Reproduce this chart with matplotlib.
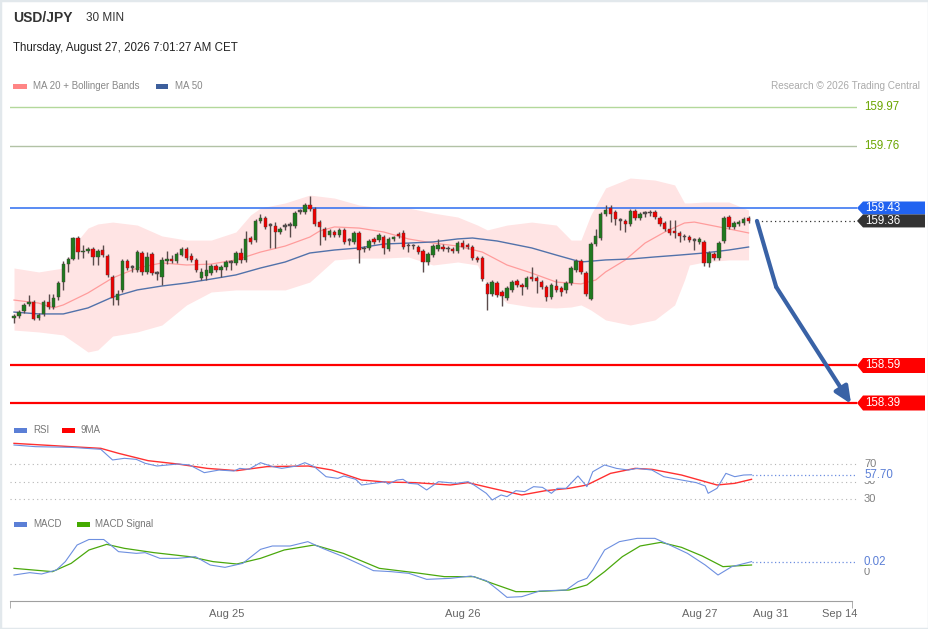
import matplotlib
matplotlib.use('Agg')
import matplotlib.pyplot as plt
from matplotlib.patches import Polygon, Rectangle
import numpy as np

plt.rcParams['font.family'] = ['Liberation Sans', 'DejaVu Sans']

# ---- price data (30 min candles) ----
opens = [
    158.843, 158.854, 158.881, 158.918, 158.929, 158.843, 158.865, 158.929, 158.902, 158.955,
    159.035, 159.131, 159.158, 159.270, 159.195, 159.201, 159.211, 159.169, 159.206, 159.174,
    159.062, 158.939, 158.993, 159.147, 159.110, 159.099, 159.190, 159.089, 159.185, 159.078,
    159.062, 159.147, 159.158, 159.147, 159.179, 159.211, 159.174, 159.153, 159.057, 159.067,
    159.083, 159.121, 159.099, 159.115, 159.137, 159.137, 159.190, 159.153, 159.270, 159.259,
    159.361, 159.377, 159.334, 159.334, 159.302, 159.329, 159.334, 159.334, 159.409, 159.409,
    159.446, 159.425, 159.355, 159.318, 159.286, 159.302, 159.286, 159.313, 159.254, 159.249,
    159.297, 159.211, 159.217, 159.265, 159.259, 159.275, 159.211, 159.265, 159.291, 159.297,
    159.227, 159.227, 159.222, 159.201, 159.142, 159.179, 159.211, 159.222, 159.211, 159.211,
    159.201, 159.243, 159.233, 159.222, 159.163, 159.163, 159.025, 158.971, 159.030, 158.982,
    158.950, 158.993, 159.041, 159.019, 159.009, 159.062, 159.057, 159.035, 159.009, 158.955,
    159.014, 159.003, 158.993, 159.030, 159.099, 159.147, 159.083, 158.945, 159.238, 159.270,
    159.398, 159.430, 159.409, 159.361, 159.361, 159.345, 159.414, 159.377, 159.398, 159.403,
    159.409, 159.377, 159.350, 159.318, 159.307, 159.297, 159.275, 159.275, 159.254, 159.249,
    159.249, 159.137, 159.185, 159.163, 159.254, 159.382, 159.329, 159.345, 159.350, 159.377,
]
closes = [
    158.854, 158.875, 158.913, 158.929, 158.838, 158.859, 158.929, 158.902, 158.950, 159.030,
    159.131, 159.158, 159.270, 159.195, 159.201, 159.211, 159.169, 159.201, 159.179, 159.073,
    158.950, 158.971, 159.147, 159.110, 159.110, 159.195, 159.089, 159.169, 159.083, 159.078,
    159.153, 159.158, 159.147, 159.185, 159.211, 159.163, 159.153, 159.099, 159.089, 159.099,
    159.121, 159.099, 159.115, 159.142, 159.137, 159.190, 159.153, 159.265, 159.249, 159.361,
    159.377, 159.329, 159.334, 159.302, 159.318, 159.329, 159.334, 159.403, 159.409, 159.446,
    159.425, 159.345, 159.329, 159.275, 159.307, 159.286, 159.313, 159.249, 159.254, 159.297,
    159.206, 159.211, 159.254, 159.249, 159.286, 159.217, 159.265, 159.270, 159.281, 159.222,
    159.227, 159.227, 159.195, 159.142, 159.185, 159.227, 159.233, 159.211, 159.211, 159.201,
    159.243, 159.222, 159.222, 159.163, 159.153, 159.051, 158.971, 159.035, 158.966, 158.961,
    159.003, 159.035, 159.019, 159.009, 159.057, 159.051, 159.041, 159.009, 158.955, 159.019,
    158.993, 158.982, 159.030, 159.110, 159.147, 159.089, 158.971, 159.238, 159.281, 159.398,
    159.419, 159.398, 159.371, 159.361, 159.345, 159.414, 159.377, 159.398, 159.398, 159.403,
    159.382, 159.345, 159.318, 159.297, 159.297, 159.281, 159.275, 159.259, 159.254, 159.265,
    159.137, 159.190, 159.163, 159.243, 159.377, 159.329, 159.350, 159.355, 159.371, 159.361,
]
highs = [
    158.865, 158.886, 158.923, 158.966, 158.939, 158.870, 158.939, 158.971, 158.971, 159.041,
    159.147, 159.169, 159.275, 159.281, 159.233, 159.222, 159.222, 159.211, 159.233, 159.185,
    159.073, 158.993, 159.158, 159.158, 159.126, 159.206, 159.201, 159.195, 159.195, 159.094,
    159.169, 159.201, 159.179, 159.195, 159.222, 159.222, 159.190, 159.163, 159.110, 159.153,
    159.131, 159.131, 159.126, 159.153, 159.153, 159.201, 159.217, 159.307, 159.281, 159.371,
    159.398, 159.387, 159.350, 159.355, 159.329, 159.350, 159.355, 159.414, 159.425, 159.457,
    159.494, 159.435, 159.366, 159.329, 159.318, 159.313, 159.323, 159.323, 159.270, 159.307,
    159.307, 159.227, 159.265, 159.275, 159.297, 159.286, 159.275, 159.281, 159.302, 159.313,
    159.243, 159.238, 159.233, 159.211, 159.195, 159.238, 159.265, 159.238, 159.227, 159.222,
    159.254, 159.259, 159.243, 159.233, 159.174, 159.174, 159.035, 159.046, 159.041, 158.993,
    159.014, 159.046, 159.051, 159.030, 159.067, 159.115, 159.067, 159.046, 159.019, 159.030,
    159.051, 159.014, 159.041, 159.121, 159.158, 159.158, 159.094, 159.249, 159.318, 159.409,
    159.446, 159.446, 159.419, 159.377, 159.371, 159.425, 159.425, 159.409, 159.414, 159.419,
    159.419, 159.387, 159.361, 159.366, 159.366, 159.307, 159.291, 159.286, 159.270, 159.275,
    159.259, 159.201, 159.195, 159.254, 159.387, 159.393, 159.361, 159.366, 159.382, 159.387,
]
lows = [
    158.817, 158.843, 158.870, 158.907, 158.833, 158.833, 158.854, 158.891, 158.891, 158.939,
    158.993, 159.089, 159.153, 159.158, 159.163, 159.190, 159.126, 159.126, 159.169, 159.062,
    158.913, 158.913, 158.982, 159.099, 159.089, 159.089, 159.073, 159.078, 159.073, 159.046,
    159.019, 159.131, 159.137, 159.137, 159.174, 159.153, 159.142, 159.089, 159.046, 159.046,
    159.073, 159.089, 159.062, 159.099, 159.099, 159.126, 159.137, 159.142, 159.238, 159.249,
    159.350, 159.318, 159.217, 159.217, 159.291, 159.313, 159.275, 159.323, 159.398, 159.398,
    159.414, 159.334, 159.233, 159.259, 159.275, 159.275, 159.275, 159.238, 159.233, 159.238,
    159.137, 159.195, 159.206, 159.238, 159.249, 159.185, 159.201, 159.254, 159.270, 159.211,
    159.195, 159.211, 159.185, 159.089, 159.126, 159.169, 159.201, 159.201, 159.195, 159.190,
    159.190, 159.211, 159.211, 159.153, 159.142, 159.041, 158.886, 158.961, 158.955, 158.907,
    158.939, 158.982, 159.009, 158.966, 158.998, 159.041, 158.977, 158.998, 158.934, 158.945,
    158.982, 158.961, 158.977, 159.019, 159.089, 159.078, 158.961, 158.939, 159.227, 159.259,
    159.387, 159.355, 159.339, 159.313, 159.302, 159.334, 159.366, 159.366, 159.382, 159.387,
    159.371, 159.334, 159.307, 159.286, 159.270, 159.249, 159.259, 159.249, 159.206, 159.238,
    159.121, 159.115, 159.153, 159.153, 159.243, 159.318, 159.318, 159.334, 159.339, 159.350,
]

# Bollinger bands around MA 20 (read at bar positions)
band_idx = [0, 5, 10, 13, 15, 17, 20, 25, 30, 35, 40, 45, 48, 50, 55, 60, 65, 70, 75, 80,
            85, 90, 94, 96, 100, 105, 110, 113, 115, 117, 120, 125, 130, 134, 136, 137, 140, 145, 149]
band_upper = [159.110, 159.089, 159.110, 159.259, 159.323, 159.345, 159.355, 159.339, 159.281, 159.259,
              159.259, 159.302, 159.393, 159.430, 159.457, 159.499, 159.483, 159.446, 159.430, 159.430,
              159.403, 159.382, 159.339, 159.313, 159.339, 159.355, 159.339, 159.259, 159.259, 159.393,
              159.537, 159.590, 159.579, 159.553, 159.457, 159.457, 159.462, 159.462, 159.419]
band_lower = [158.779, 158.769, 158.753, 158.699, 158.662, 158.673, 158.747, 158.769, 158.806, 158.913,
              158.982, 158.993, 158.993, 158.993, 158.993, 159.035, 159.153, 159.163, 159.163, 159.169,
              159.126, 159.142, 159.126, 159.019, 158.923, 158.902, 158.897, 158.902, 158.913, 158.886,
              158.833, 158.806, 158.833, 158.913, 159.046, 159.126, 159.142, 159.153, 159.153]

ma20_idx = [0, 5, 8, 10, 15, 20, 25, 30, 35, 40, 45, 50, 55, 60, 62, 65, 70, 75, 80, 85, 90,
            95, 100, 105, 110, 115, 118, 120, 124, 128, 132, 136, 138, 143, 149]
ma20 = [158.939, 158.923, 158.897, 158.913, 158.977, 159.057, 159.110, 159.137, 159.126, 159.131,
        159.153, 159.195, 159.227, 159.275, 159.307, 159.329, 159.323, 159.302, 159.265, 159.243,
        159.227, 159.195, 159.126, 159.083, 159.035, 159.025, 159.046, 159.089, 159.153, 159.243,
        159.302, 159.350, 159.355, 159.329, 159.297]

ma50_idx = [0, 5, 10, 15, 20, 25, 30, 35, 40, 45, 50, 55, 60, 65, 70, 75, 80, 85, 90, 93,
            98, 105, 110, 115, 120, 125, 130, 135, 140, 145, 149]
ma50 = [158.875, 158.865, 158.865, 158.897, 158.955, 158.993, 159.014, 159.030, 159.051, 159.073,
        159.110, 159.142, 159.190, 159.206, 159.217, 159.238, 159.243, 159.249, 159.265, 159.270,
        159.254, 159.217, 159.179, 159.142, 159.153, 159.158, 159.169, 159.179, 159.190, 159.206,
        159.222]

# key levels
resistances = [159.97, 159.76]
pivot = 159.43
supports = [158.59, 158.39]

# forecast path
forecast_x = [150.7, 154.6, 169.8]
forecast_y = [159.361, 159.009, 158.385]

# RSI and its 9 period MA
rsi_x = [0, 4.4, 11.6, 17.6, 20, 22.4, 24.8, 26.6, 29, 33.2, 35.6, 38.6, 41.6, 44.6, 45.8, 47.6,
         50, 52.5, 54.3, 57.3, 59, 60.9, 63.3, 65.7, 66.9, 69.3, 70.5, 72.9, 75.3, 75.9, 77.7,
         78.9, 80.1, 81.9, 83.7, 86.1, 89.7, 92.1, 93.3, 95.8, 97, 98.8, 100, 101.8, 103.6,
         105.4, 107.2, 109, 110.2, 112, 114.4, 116.2, 117.4, 119.8, 122.2, 124.6, 126.4, 129.4,
         131.8, 135.4, 138.4, 140.2, 140.8, 142.6, 144.4, 146.2, 148, 149.6]
rsi = [91.7, 89.8, 89, 86.8, 74.6, 76.5, 75.3, 70.8, 67.7, 70, 68.9, 60.1, 63.1, 62, 65, 63.9,
       71.5, 67, 65, 67.7, 71.5, 67, 55.5, 53.6, 56.3, 52.5, 46, 47.9, 49.8, 47.1, 51.7,
       52.5, 47.9, 47.1, 40.3, 49.8, 47.9, 49.8, 46, 36.5, 28.9, 34.6, 32.7, 39.5, 38.4,
       44.1, 43.3, 36.5, 42.2, 42.2, 56.3, 44.1, 61.2, 68.9, 65, 63.1, 65, 63.1,
       55.5, 51.7, 48.7, 44.9, 36.5, 42.2, 59.3, 55.5, 57.4, 57.7]
rsi_ma_x = [0, 11.6, 17.6, 21.2, 27.2, 33.2, 39.2, 45.2, 51.3, 59.7, 64.5, 70.5, 75.3, 81.3,
            88.5, 92.1, 97, 103, 107.8, 112.6, 116.2, 121, 126, 129.4, 135.4, 142.6, 146.2, 149.6]
rsi_ma = [93.6, 89.8, 87.9, 82.2, 73.8, 70, 65, 62.4, 67, 67.7, 63.1, 51.7, 49.4, 48.7,
          46, 48.7, 42.2, 34.6, 39.5, 42.2, 46, 59.3, 65, 63.9, 57.4, 46, 47.9, 52.5]
rsi_levels = [70, 50, 30]

# MACD and signal
macd_x = [0, 3.2, 5.6, 8.6, 10.4, 12.8, 15.2, 18.2, 20, 21.2,
          24.8, 26.6, 29.6, 33.2, 36.8, 39.8, 42.8, 46.4, 50, 52.4,
          56, 59.6, 62.6, 66.8, 70.5, 72.9, 76.5, 80.1, 83.7, 88.5,
          92.7, 95.8, 98.2, 100, 103, 106.6, 112, 114.4, 116.2, 117.4,
          119.8, 122.8, 126.4, 130, 133, 136.6, 140.2, 142.8, 145.6, 149.6]
macd = [-0.006, -0.0013, -0.004, 0.004, 0.0207, 0.054, 0.065, 0.065, 0.0507, 0.0407,
        0.0373, 0.0387, 0.0273, 0.0273, 0.0307, 0.014, 0.0093, 0.0173, 0.0453, 0.052,
        0.052, 0.0607, 0.0473, 0.0307, 0.014, 0.0027, 0.0007, -0.0027, -0.0147, -0.0127,
        -0.008, -0.0173, -0.036, -0.0507, -0.0493, -0.038, -0.036, -0.0193, -0.0127, 0.004,
        0.044, 0.0607, 0.0673, 0.0673, 0.054, 0.0373, 0.014, -0.006, 0.0107, 0.0207]
signal_x = [0, 7.8, 11.6, 15.2, 18.8, 22.4, 28.4, 35.6, 40.4, 45.2, 50, 54.8, 60.9, 66.8, 74.1,
            81.3, 87.3, 93.3, 97, 101.8, 105.4, 112.6, 116.2, 119.8, 123.4, 127, 131.2, 135.4,
            139.6, 143.8, 149.6]
signal = [0.0073, 0.0007, 0.0173, 0.044, 0.0553, 0.0473, 0.0387, 0.0307, 0.0207, 0.016, 0.0273,
          0.044, 0.054, 0.0373, 0.0073, -0.0013, -0.0093, -0.0093, -0.0227, -0.0393, -0.0393,
          -0.036, -0.026, 0.0007, 0.0307, 0.052, 0.0593, 0.0493, 0.032, 0.0107, 0.014]

# time axis
tick_pos = [43.2, 91.1, 139.1, 153.5, 167.5]
tick_labels = ['Aug 25', 'Aug 26', 'Aug 27', 'Aug 31', 'Sep 14']

# ---- layout helpers (pixel based) ----
W, H = 929, 629
BAR0_PX, BAR_STEP = 14, 4.93


def bar_at(px):
    return (px - BAR0_PX) / BAR_STEP


fig = plt.figure(figsize=(W / 100, H / 100), dpi=100)


def panel(x0, y0, x1, y1):
    ax = fig.add_axes([x0 / W, 1 - y1 / H, (x1 - x0) / W, (y1 - y0) / H])
    ax.set_xlim(bar_at(x0), bar_at(x1))
    ax.set_axis_off()
    return ax


def ftext(x, y, s, **kw):
    fig.text(x / W, 1 - y / H, s, va='center', **kw)


def frect(x0, y0, x1, y1, color):
    fig.patches.append(Rectangle((x0 / W, 1 - y1 / H), (x1 - x0) / W, (y1 - y0) / H,
                                 transform=fig.transFigure, color=color, lw=0))


# ---- main price panel ----
PX_PER_PRICE = 187.5
ax = panel(10, 95, 857, 415)
ax.set_ylim(pivot - (415 - 208) / PX_PER_PRICE, pivot + (208 - 95) / PX_PER_PRICE)

ax.fill_between(band_idx, band_lower, band_upper, color='#ffe4e4', lw=0, zorder=1)
ax.plot(ma20_idx, ma20, color='#ff9c9c', lw=0.9, zorder=2)
ax.plot(ma50_idx, ma50, color='#5272aa', lw=1.0, zorder=2)

o = np.array(opens)
c = np.array(closes)
hi = np.array(highs)
lo = np.array(lows)
idx = np.arange(len(c))
body_col = np.where(c > o, '#1f7a1f', np.where(c < o, '#f00000', '#555555'))
ax.vlines(idx, lo, hi, color='#5a4b4b', lw=1.0, zorder=3)
ax.bar(idx, np.maximum(np.abs(c - o), 0.008), bottom=np.minimum(o, c), width=0.7,
       color=body_col, edgecolor='#4a3a3a', lw=0.3, zorder=4)

ax.axhline(resistances[0], color='#b3d89b', lw=1.0, zorder=1)
ax.axhline(resistances[1], color='#b2c2a5', lw=1.0, zorder=1)
ax.axhline(pivot, color='#2c6cf0', lw=1.1, zorder=2)
for s in supports:
    ax.axhline(s, color='#ff0000', lw=1.6, zorder=2)

for r in resistances:
    ax.text(bar_at(864), r, f'{r:.2f}', color='#6aa500', fontsize=8.3, va='center',
            clip_on=False)

last = closes[-1]
ax.plot([bar_at(757), bar_at(857)], [last, last], color='#333333', lw=0.9,
        ls=(0, (1, 2.5)), zorder=2)


def tag(y, color, half_px):
    hh = half_px / PX_PER_PRICE
    tip, left, right = bar_at(857), bar_at(863), bar_at(925)
    ax.add_patch(Polygon([(tip, y), (left, y + hh), (right, y + hh), (right, y - hh),
                          (left, y - hh)], closed=True, color=color, lw=0, clip_on=False,
                         zorder=6))
    ax.text(bar_at(865), y, f'{y:.2f}', color='white', fontsize=8.3, va='center',
            clip_on=False, zorder=7)


tag(pivot, '#2163f0', 6.5)
tag(last, '#333333', 6.5)
for s in supports:
    tag(s, '#ff0000', 7.5)

arrow_col = '#3962a6'
ax.plot(forecast_x[:2], forecast_y[:2], color=arrow_col, lw=3.0, solid_capstyle='round',
        zorder=8)
ax.annotate('', xy=(forecast_x[2], forecast_y[2]), xytext=(forecast_x[1], forecast_y[1]),
            arrowprops=dict(arrowstyle='-|>,head_width=0.45,head_length=1.0',
                            color=arrow_col, lw=3.0, shrinkA=0, shrinkB=0,
                            capstyle='round'),
            zorder=8, annotation_clip=False)

# ---- RSI panel ----
RSI_PX = 0.875
rax = panel(10, 440, 857, 505)
rax.set_ylim(70 - (505 - 464) / RSI_PX, 70 + (464 - 440) / RSI_PX)
for lv in rsi_levels:
    rax.axhline(lv, color='#b5b5b5', lw=0.8, ls=(0, (1, 3)))
    # the 50 label sits under the current value box, the others above it
    rax.text(bar_at(864), lv, str(lv), color='#808080', fontsize=8, va='center', clip_on=False,
             zorder=4 if lv == 50 else 6)
rax.plot(rsi_ma_x, rsi_ma, color='#ff3030', lw=1.0)
rax.plot(rsi_x, rsi, color='#6d8fe0', lw=0.8)
rax.plot([rsi_x[-1], bar_at(857)], [rsi[-1], rsi[-1]], color='#6d8fe0', lw=0.9, ls=(0, (1, 2)))
rax.text(bar_at(864), rsi[-1], f'{rsi[-1]:.2f}', color='#5b7fd6', fontsize=8.3, va='center',
         clip_on=False, zorder=5, bbox=dict(facecolor='white', edgecolor='none', pad=0.3))

# ---- MACD panel ----
MACD_PER_PX = 0.002
max_ = panel(10, 530, 857, 600)
max_.set_ylim(-(600 - 572) * MACD_PER_PX, (572 - 530) * MACD_PER_PX)
max_.plot(signal_x, signal, color='#4aa80c', lw=0.9)
max_.plot(macd_x, macd, color='#6d8fe0', lw=0.8)
max_.plot([macd_x[-1], bar_at(857)], [macd[-1], macd[-1]], color='#6d8fe0', lw=0.9,
          ls=(0, (1, 2)))
max_.text(bar_at(864), -0.0005, '0', color='#808080', fontsize=8, va='center', clip_on=False)
max_.text(bar_at(864), macd[-1], f'{macd[-1]:.2f}', color='#5b7fd6', fontsize=8.3, va='center',
          clip_on=False, bbox=dict(facecolor='white', edgecolor='none', pad=0.3))

# ---- time axis ----
tax = fig.add_axes([10 / W, 1 - 601 / H, 847 / W, 1 / H])
tax.set_xlim(bar_at(10), bar_at(857))
tax.set_yticks([])
for side in ('left', 'right', 'top'):
    tax.spines[side].set_visible(False)
tax.spines['bottom'].set_color('#a0a0a0')
tax.spines['bottom'].set_bounds(bar_at(10), bar_at(852))
tax.set_xticks(tick_pos, tick_labels)
tax.set_xticks([bar_at(10), bar_at(852)], minor=True)
tax.tick_params(axis='x', which='major', length=0, pad=6, labelsize=8, labelcolor='#666666')
tax.tick_params(axis='x', which='minor', length=5, color='#a0a0a0')
tax.patch.set_visible(False)

# ---- header and legends ----
ftext(13, 18, 'USD/JPY', fontsize=10, fontweight='bold', color='#333333')
ftext(86, 18, '30 MIN', fontsize=8.5, color='#333333')
ftext(13, 48, 'Thursday, August 27, 2026 7:01:27 AM CET', fontsize=8.3, color='#222222')

frect(13, 84, 27, 89, '#ff8585')
ftext(33, 86, 'MA 20 + Bollinger Bands', fontsize=7, color='#888888')
frect(156, 84, 168, 89, '#3d5f9c')
ftext(175, 86, 'MA 50', fontsize=7, color='#888888')
ftext(920, 86, 'Research \u00a9 2026 Trading Central', fontsize=7.2, color='#aaaaaa',
      ha='right')

frect(14, 428, 27, 433, '#5b7fd6')
ftext(33, 430, 'RSI', fontsize=7, color='#777777')
frect(62, 428, 75, 433, '#ff0000')
ftext(81, 430, '9MA', fontsize=7, color='#777777')

frect(14, 522, 27, 527, '#5b7fd6')
ftext(33, 524, 'MACD', fontsize=7, color='#777777')
frect(77, 522, 90, 527, '#44aa00')
ftext(95, 524, 'MACD Signal', fontsize=7, color='#777777')

fig.patches.append(Rectangle((0, 0), 1, 1, transform=fig.transFigure, fill=False,
                             edgecolor='#e2e8ec', lw=2.5))

fig.savefig('out.png', dpi=100)
